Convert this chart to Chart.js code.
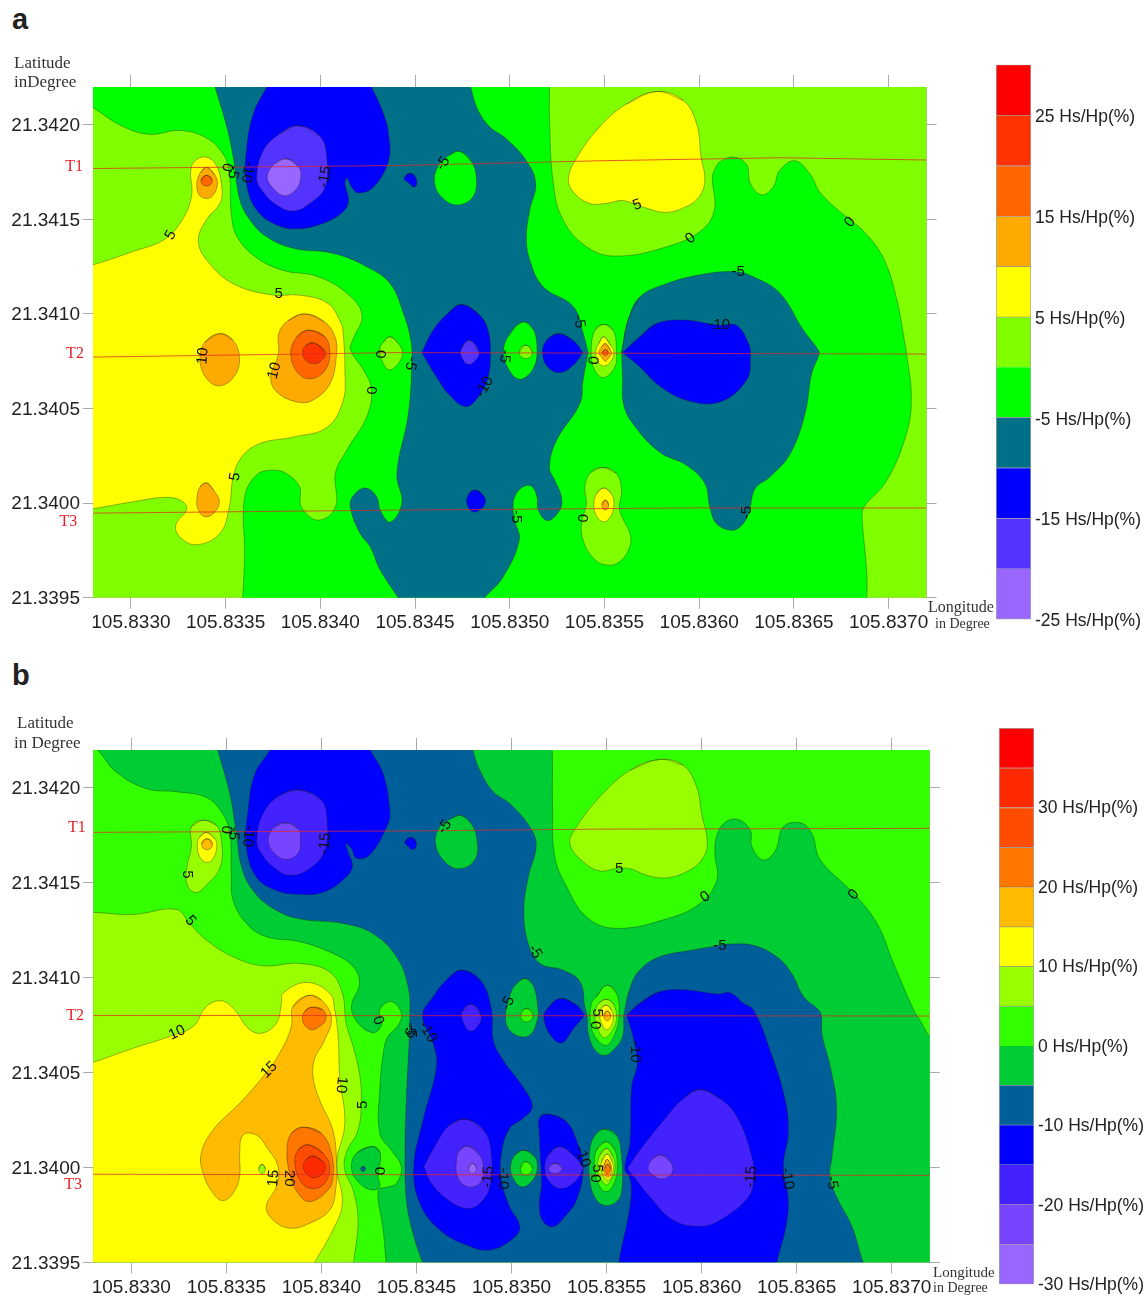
<!DOCTYPE html>
<html>
<head>
<meta charset="utf-8">
<script src="https://cdn.jsdelivr.net/npm/chart.js@4/dist/chart.umd.min.js"></script>
<style>
body { margin: 0; background: #fff; }
#page { position: relative; width: 1148px; height: 1297px; overflow: hidden; }
canvas { position: absolute; }
.note { position: absolute; font-family: "Liberation Serif", serif; color: #333; white-space: nowrap; line-height: 1; transform: translateY(-50%); }
.tag { position: absolute; font-family: "Liberation Sans", sans-serif; font-weight: bold; font-size: 29px; color: #222; line-height: 1; }
</style>
</head>
<body>
<div id="page">
  <div class="tag" style="left:12px;top:5px">a</div>
  <div class="tag" style="left:12px;top:661px">b</div>
  <canvas id="mapA" width="1148" height="640" style="left:0;top:0"></canvas>
  <canvas id="mapB" width="1148" height="642" style="left:0;top:655px"></canvas>
  <canvas id="barA" width="152" height="590" style="left:996px;top:50px"></canvas>
  <canvas id="barB" width="149" height="580" style="left:999px;top:715px"></canvas>
  <div class="note" style="left:14px;top:62px;font-size:17px">Latitude</div>
  <div class="note" style="left:14px;top:81px;font-size:17px">inDegree</div>
  <div class="note" style="left:928px;top:607px;font-size:16px">Longitude</div>
  <div class="note" style="left:935px;top:624px;font-size:14px">in Degree</div>
  <div class="note" style="left:17px;top:722px;font-size:17px">Latitude</div>
  <div class="note" style="left:14px;top:742px;font-size:17px">in Degree</div>
  <div class="note" style="left:933px;top:1272px;font-size:15px">Longitude</div>
  <div class="note" style="left:933px;top:1288px;font-size:14px">in Degree</div>
</div>
<script>
// contour outlines are [lon, lat], in 1e-5 degree past 105.83 / 21.34
const LON0 = 105.83;
const LAT0 = 21.34;
const lonTicks = [105.833, 105.8335, 105.834, 105.8345, 105.835, 105.8355, 105.836, 105.8365, 105.837];
const latTicks = [21.3395, 21.34, 21.3405, 21.341, 21.3415, 21.342];

const bandsA = [-25, -20, -15, -10, -5, 0, 5, 10, 15, 20, 25];
const coloursA = ['#9966ff', '#5533ff', '#0000ff', '#007088', '#00ff00', '#80ff00', '#ffff00', '#ffaa00', '#ff6600', '#ff3300', '#ff0000'];
const barTicksA = [-25, -15, -5, 5, 15, 25];
const bandsB = [-30, -25, -20, -15, -10, -5, 0, 5, 10, 15, 20, 25, 30, 35];
const coloursB = ['#9966ff', '#7744ff', '#4422ff', '#0000ff', '#005f99', '#00cc33', '#33ff00', '#99ff00', '#ffff00', '#ffbb00', '#ff7700', '#ff4c00', '#ff2a00', '#ff0000'];
const barTicksB = [-30, -20, -10, 0, 10, 20, 30];

const box = [[260, -70], [740, -70], [740, 240], [260, 240], [260, -70]];

// panel a
const aT1 = [[280, 176.9], [442, 178.5], [547.7, 181], [642.7, 182.6], [720, 181.4]];
const aT2 = [[280, 77.2], [442, 79.6], [720, 78.8]];
const aT3 = [[280, -5.3], [442, -3.7], [600.5, -2.5], [720, -2.6]];

const aGreen = [[275, 212], [280, 209], [296, 199], [310, 195], [326, 197], [340, 193], [349, 184], [352, 174], [353, 153], [356, 141], [366, 130], [380.5, 123], [398, 120], [414, 111], [422, 99.5], [417, 86], [416, 81], [423, 70], [427, 60], [424.5, 45.6], [414, 28], [408, 16], [408, -2], [399, -9], [390, -2], [389, 8.6], [382, 15.7], [375, 17.4], [366.5, 15], [360, 3], [360, -27], [359, -50], [358, -62], [358, -80], [688, -80], [688, -62], [688.5, -50], [688.5, -37], [686, -7], [687, -2], [699, 12], [709.5, 37], [712, 56], [709.5, 79], [708.6, 84.5], [704, 109], [697, 130], [686.6, 144], [678, 151], [664, 164], [658.5, 174], [650.5, 181], [642.6, 176], [639, 167], [633, 163], [627, 169], [625, 179], [618, 183], [611, 180.5], [609, 178], [607, 172.5], [608, 155], [601, 144], [583, 135.6], [556, 130.6], [540.5, 135.6], [528, 150], [523, 169], [521, 202.5], [521, 220], [521, 235], [270, 235], [270, 214], [275, 212]];
const aYellowTop = [[577.5, 217.6], [591.5, 213], [598.6, 200.7], [601, 183], [603, 170.8], [600, 162], [593, 156.7], [582.7, 153.7], [572, 156], [565, 158.5], [559, 160], [551, 158.5], [542, 158.5], [533.5, 164.6], [531, 171.7], [535, 182], [547.5, 199], [561.6, 211], [577.5, 217.6]];
const aYellowLeft = [[270, 124], [280, 126], [301, 133], [317, 139], [326, 148], [332, 162], [332, 178], [338, 183], [344.5, 179.6], [348, 167], [347, 158.5], [340, 150], [335.6, 139], [340, 128.5], [354, 116], [375, 110], [389, 110], [404, 105.6], [411, 95], [412, 91], [413, 70], [412, 54], [403.4, 40], [386, 35], [368, 31.5], [358.6, 24.5], [354, 14], [352, -2], [347, -16], [334.7, -22], [326, -18], [323.7, -11.6], [329.5, -3], [326, 1.6], [317, 3], [301, 0.7], [280, -3], [270, -4.5], [262, 60], [270, 124]];
const aOrangeT1 = [[340, 177.5], [344.4, 173.4], [345.7, 169], [343.6, 163], [340, 161], [336, 163], [334.8, 169], [336.5, 174.3], [340, 177.5]];
const aCoreT1 = [[340, 173.3], [343, 170.4], [340, 167.6], [337, 170.4], [340, 173.3]];
const aOrangeT2 = [[347, 89.6], [354, 86], [357.3, 77.3], [355, 67.6], [347, 62], [340, 65.8], [336.5, 75.5], [339, 85], [347, 89.6]];
const aOrangeBig = [[392, 100], [402, 96], [407.8, 88], [408.4, 77], [405, 63], [396, 54.4], [387.6, 53.5], [377, 58.8], [373.8, 66.7], [377.9, 79], [378, 89.6], [383, 96.5], [392, 100]];
const aDeepBig = [[393.7, 91.4], [402.5, 87.9], [405, 79], [402.5, 70.2], [395.5, 65.8], [388.4, 68.5], [384.4, 79], [387.6, 87.9], [393.7, 91.4]];
const aRedBig = [[396.4, 84.7], [402.5, 80], [400.8, 75.5], [396.4, 73.8], [392, 75.9], [390.7, 79.6], [392, 83], [396.4, 84.7]];
const aOrangeT3 = [[340, 10.7], [343.6, 6.9], [346.7, 0.7], [343.6, -5.5], [339, -7.2], [335.6, -3.7], [334.8, 1.6], [336.5, 8.6], [340, 10.7]];
const aLimeW = [[436.9, 87.9], [441.3, 84.3], [443.4, 79], [440.4, 72.9], [436, 70.6], [432.5, 75.5], [431.2, 80.8], [433.3, 85.2], [436.9, 87.9]];
const aTealMain = [[340, 235], [344.4, 220], [350.6, 199], [354, 183], [357.6, 160], [363, 149.6], [371.7, 140.8], [385.8, 134.7], [407, 132], [424.5, 125], [436.9, 116], [444, 100], [447.8, 86], [448.3, 75.5], [446.5, 47.4], [440.4, 15.7], [443, 0], [436.9, -10], [431.6, -3.7], [429.8, 3.3], [423.7, 8], [417.5, 4], [415.8, -2], [421, -16], [426.3, -23], [431.6, -35.4], [441, -50], [448, -62], [455, -80], [480, -80], [478, -62], [486.8, -50], [496.5, -39], [505, -19.5], [502.6, -9], [501.8, -3.7], [502.6, 3.3], [507, 8.6], [511.4, 9], [514.4, 3.3], [515, -3.7], [520, -9.3], [526.4, -3.7], [527.3, 3.3], [523.8, 12], [521, 19], [524.6, 33], [537, 52.6], [538.7, 65], [541.4, 79.6], [541.4, 79.6], [538.7, 90], [533.5, 104], [517.6, 114.4], [510.6, 128.5], [508.8, 140.8], [510.6, 155], [513.7, 169], [508.8, 181], [498, 192.8], [489.4, 199], [483.3, 207.7], [479.4, 220], [476, 235], [340, 235]];
const aTealRight = [[562.5, 96.8], [568.7, 109], [582.7, 116], [600, 120.6], [618, 122.4], [628.5, 119.7], [642.6, 111], [655, 91.5], [662.9, 81], [663.4, 79], [659.4, 68.5], [655.9, 47.4], [648, 26], [637.5, 14], [629.6, 7.7], [626, -5.5], [621.7, -12.5], [616.3, -14.3], [609, -10.7], [605.6, -2], [603, 10.4], [593.3, 20], [579, 27], [565, 42], [560, 52.6], [559.5, 66.7], [559, 79.6], [559, 79.6], [562.5, 96.8]];
const aBlueTop = [[396, 262], [380, 236], [371.7, 220], [364.7, 206], [361, 186.6], [361, 169], [366.4, 155], [377, 147], [387.6, 145], [401.7, 148], [412, 154], [414.9, 160], [413, 169], [414, 171.7], [416.6, 167], [420, 164], [428, 167], [436, 181], [436, 195.4], [433.3, 206], [427, 220], [419, 236], [404, 262], [396, 262]];
const aVioletTop = [[388.5, 199.5], [400, 193.7], [403.4, 183], [402.5, 167], [394.6, 158.5], [385.8, 154.4], [377, 157.6], [369, 165.5], [366.4, 172.5], [370, 186.6], [378.8, 195.4], [388.5, 199.5]];
const aLilacTop = [[382.3, 182], [388.5, 177.8], [389.7, 172.5], [387.6, 166.4], [381.4, 162.5], [375.2, 166.4], [372, 172.5], [376, 179.6], [382.3, 182]];
const aBlueDot = [[447.4, 174.3], [450.6, 171.7], [450, 167.3], [446.5, 169.4], [444.3, 171.7], [447.4, 174.3]];
const aGreenN = [[473.6, 186], [479.8, 180.5], [482.4, 171.7], [480.6, 162], [472.7, 157.6], [464.8, 161], [460.4, 169], [462, 177.8], [468.3, 184], [473.6, 186]];
const aBlueT2a = [[474.5, 105], [484, 99.5], [488.6, 91.4], [489.8, 79], [488.6, 66.7], [484, 57], [477, 51], [468.3, 57], [461.3, 66.7], [453.5, 79.6], [453.5, 79.6], [459.5, 91.4], [467.4, 100.4], [474.5, 105]];
const aVioletT2 = [[478.9, 86], [483.8, 79.6], [481.5, 75], [478, 73.4], [474.5, 77.3], [474.5, 81.7], [478.9, 86]];
const aGreenT2 = [[506.7, 95.8], [512.3, 92], [514.4, 80.8], [512.3, 71], [506, 65.5], [500.9, 68.5], [496.8, 79], [499, 87.9], [506.7, 95.8]];
const aLimeT2 = [[508.5, 83.5], [512, 79.6], [508.5, 76.4], [505, 79.6], [508.5, 83.5]];
const aBlueT2b = [[525.5, 89.6], [533.5, 86], [538.7, 79.6], [538.7, 79.6], [533.5, 72.9], [526.4, 69], [520, 72], [517.3, 79.6], [519.4, 86], [525.5, 89.6]];
const aBlueT2c = [[568.7, 88], [577.5, 95], [591.5, 96.8], [611, 94], [619.7, 94], [626, 84.5], [627.1, 77.3], [625, 65], [611, 53.5], [593.3, 54.4], [579, 62], [568.7, 72], [559.5, 79.6], [559.5, 79.6], [568.7, 88]];
const aPeakLimeT2 = [[549.6, 94.5], [554.6, 91.4], [556.3, 80.8], [555.5, 72], [549.6, 66.4], [544.9, 70.2], [543, 79.6], [544.9, 91.4], [549.6, 94.5]];
const aPeakYellowT2 = [[549.6, 87.9], [553.2, 83.5], [555, 79.6], [553.2, 74.6], [549.6, 72.5], [546.7, 74.6], [545.3, 79.6], [547, 84.4], [549.6, 87.9]];
const aPeakOrangeT2 = [[550.5, 84.3], [553.2, 80.8], [553.7, 79], [552, 76.4], [550.5, 75], [548.4, 77.3], [547, 79.6], [548.4, 82.6], [550.5, 84.3]];
const aPeakCoreT2 = [[550.5, 81.2], [552, 79.6], [550.5, 78], [549, 79.6], [550.5, 81.2]];
const aBlueT3 = [[481.5, 6.9], [486, 4.2], [487, -0.2], [484, -3.7], [480.6, -4.6], [477.6, -1], [478, 4.2], [481.5, 6.9]];
const aPeakLimeT3 = [[549.3, 18.8], [556.3, 15.7], [559, 6.9], [558, -3.7], [563.4, -16], [563.4, -23], [558, -31], [551, -32.7], [544, -29], [538.7, -19.5], [537.9, -10.7], [540.5, -0.2], [539.6, 8.6], [543, 16.5], [549.3, 18.8]];
const aPeakYellowT3 = [[549.6, 8], [553.7, 5], [555, -1], [553.2, -7.2], [549.6, -9.9], [546, -7.2], [544.4, -1], [545.8, 5], [549.6, 8]];
const aPeakOrangeT3 = [[550.5, 1.6], [552.2, -1], [550.5, -3.7], [548.6, -1], [550.5, 1.6]];

const layersA = [
  [box, 0], [aGreen, -5], [aYellowTop, 5], [aYellowLeft, 5], [aOrangeT1, 10], [aCoreT1, 15],
  [aOrangeT2, 10], [aOrangeBig, 10], [aDeepBig, 15], [aRedBig, 20], [aOrangeT3, 10], [aLimeW, 0],
  [aTealMain, -10], [aTealRight, -10], [aBlueTop, -15], [aVioletTop, -20], [aLilacTop, -25],
  [aBlueDot, -15], [aGreenN, -5], [aBlueT2a, -15], [aVioletT2, -20], [aGreenT2, -5], [aLimeT2, 0],
  [aBlueT2b, -15], [aBlueT2c, -15], [aPeakLimeT2, 0], [aPeakYellowT2, 5], [aPeakOrangeT2, 10], [aPeakCoreT2, 15],
  [aBlueT3, -15], [aPeakLimeT3, 0], [aPeakYellowT3, 5], [aPeakOrangeT3, 10]
];
const linesA = [aT1, aT2, aT3];
const lineNamesA = [['T1', 270, 178], ['T2', 270.5, 78.7], ['T3', 267, -10]];
const labelsA = [
  ['5', 321, 141.7, -60], ['0', 350.6, 177.5, 100], ['-5', 354, 175, 100], ['-10', 361.5, 175, 100], ['-15', 402.5, 172.5, -80],
  ['5', 378, 110.4, 0], ['10', 338, 77.8, -85], ['10', 375.8, 70, -75], ['0', 431.6, 78.7, 90], ['-5', 447.8, 73.8, 100],
  ['0', 427.7, 59.7, -90], ['5', 355, 14, -80], ['-5', 464.8, 179.6, -55], ['5', 567.3, 157.6, -20], ['0', 595.4, 140, -40],
  ['-5', 620.6, 122.4, 0], ['-10', 610.6, 94, 0], ['0', 679.6, 148.6, -50], ['-5', 536.6, 96, 80], ['-5', 497.4, 77.6, 95],
  ['-10', 486.8, 61.4, -60], ['0', 543.7, 75.5, 95], ['-5', 503.2, -7.2, 90], ['0', 538.4, -8, 90], ['-5', 625, -5, -90]
];

// panel b
const bT1 = [[279.6, 176.6], [451.7, 177.4], [546.6, 178.3], [720.2, 178.7]];
const bT2 = [[279.6, 80.1], [720.2, 79.8]];
const bT3 = [[279.6, -3.6], [720.2, -4.2]];

const bDark = [[278, 223.3], [282.5, 219.8], [292, 208.4], [308, 199.6], [323.7, 198], [339.5, 195], [348, 186.5], [351.8, 176], [352.6, 155], [353.5, 141], [360.5, 128.6], [371, 121.6], [388.6, 119], [406, 112.8], [416.7, 105.8], [420, 97], [415.8, 84.8], [419.3, 76], [427.2, 71], [431.6, 75], [430.7, 83], [436.8, 87.4], [442, 81.3], [440.4, 75], [435, 69], [432.8, 62], [430.7, 41], [430.7, 18], [436.8, 9], [442, 0.4], [439.5, -8.3], [434, -10.5], [429.8, -12], [432.5, -33], [434, -50], [435, -62], [435, -80], [735, -80], [735, 55], [720.2, 68.8], [715, 77.5], [711.6, 83], [701, 107.5], [692.3, 128.6], [680, 144.4], [662.5, 162], [658, 176], [652, 181.6], [643, 179.5], [638.8, 167], [632.6, 162], [626.5, 169], [625.6, 177.7], [619.5, 183.3], [612.5, 182], [608, 175], [607, 165.4], [608, 151.4], [599, 139], [581.6, 131], [555, 126], [539.5, 132], [529, 148], [522.8, 163.7], [521.6, 190], [521.4, 219.8], [520, 235], [277, 235], [278, 223.3]];
const bLimeTop = [[578, 215], [590.4, 212], [597.4, 200.5], [600, 186.5], [603, 170.7], [600, 162], [592, 155.8], [581.6, 152.6], [571, 154], [562.3, 157.5], [555.3, 157.5], [546.5, 156.3], [537.7, 161], [530.7, 170.7], [534.2, 179.5], [546.5, 195.3], [562.3, 209.3], [578, 215]];
const bLimeLeft = [[268, 134], [279.6, 134.4], [301, 133.3], [323.7, 136], [330.7, 128.6], [339.5, 119.8], [353.5, 111], [369.3, 106.3], [388.6, 107.5], [404.4, 103], [411, 91.8], [413, 76], [416.7, 63.7], [420, 49.6], [421, 35.6], [419.3, 19.8], [413, 7.5], [412.3, -1.3], [416.7, -12], [419.3, -27.7], [417, -50], [416, -62], [416, -80], [268, -80], [260, 40], [268, 134]];
const bYellow = [[268, 52], [279.6, 55.3], [301, 62.8], [320, 69], [332.5, 74.3], [339.5, 84.8], [347.4, 87.8], [354.4, 83], [361.4, 73.4], [368.4, 70.7], [376.3, 76], [379, 86.6], [379.8, 91.8], [392, 97.5], [404.4, 91.8], [407, 83], [408.8, 69], [409.6, 48], [412.3, 23], [408, 2], [411, -19], [406, -33], [396.5, -50], [390, -62], [380, -80], [268, -80], [260, 0], [268, 52]];
const bOrange = [[393, 90.6], [400, 88.3], [405.3, 78.6], [400.9, 65.5], [396.5, 57.6], [395.6, 47.9], [399, 35.6], [406, 19.8], [408, 2.2], [407.5, -11.9], [404.4, -22.4], [393.9, -29.4], [383.3, -32], [374.6, -27.7], [371, -20.6], [376.3, -10], [377.2, 0.4], [371, 11], [365.8, 17.1], [358.8, 17.1], [357, 7.5], [357, -4.8], [353.5, -13.6], [348.2, -17.5], [343, -13.6], [337.7, -3], [336.8, 7.5], [343, 19.8], [357, 33.8], [369.3, 47.9], [378, 60.2], [384.2, 74.3], [385, 84.8], [393, 90.6]];
const bDeepTop = [[394.7, 84.4], [400.9, 83], [402.3, 77.8], [399, 74.3], [394.7, 72.5], [391.2, 75], [390, 78.6], [391.2, 82.2], [394.7, 84.4]];
const bDeepBig = [[390.4, 21.2], [400, 18], [405.3, 7.5], [406.1, -4.8], [403.5, -11.9], [393.9, -18], [387.7, -13.6], [383.3, -3], [381.9, 9.2], [384.2, 18], [390.4, 21.2]];
const bRedBig = [[393, 11.9], [400.9, 7.5], [404.4, -0.4], [400.9, -9.2], [393.9, -11], [388.6, -6.6], [386, 2.2], [387.7, 9.2], [393, 11.9]];
const bCoreBig = [[395.6, 6], [400.9, 3], [402, -0.4], [400, -4], [395.6, -5.4], [391.8, -3], [390.4, 0.4], [392, 4.3], [395.6, 6]];
const bLimeDot = [[368.8, 1.6], [370.5, -0.8], [368.8, -3.3], [367, -0.8], [368.8, 1.6]];
const bLimeT1 = [[337.7, 183], [344.7, 180.4], [347.4, 172.5], [346.8, 158.4], [339.5, 148.8], [334.2, 144.9], [329.8, 147.9], [329, 156.7], [331.6, 169], [331.6, 179.5], [337.7, 183]];
const bYellowT1 = [[339.5, 176.5], [343.9, 173.3], [345, 169], [343, 162.8], [339.5, 160.7], [336, 163.7], [334.7, 169.8], [336, 174.2], [339.5, 176.5]];
const bOrangeT1 = [[339.8, 173.2], [342.8, 170.3], [339.8, 167.4], [336.9, 170.3], [339.8, 173.2]];
const bIslandW = [[427.2, 11], [431, 7.5], [429.8, -4.8], [430.7, -10], [426.3, -11.9], [419.3, -7.5], [415.8, -0.4], [418.4, 7.5], [427.2, 11]];
const bTealDot = [[421.9, 0.6], [423.1, -0.8], [421.9, -2.2], [420.7, -0.8], [421.9, 0.6]];
const bTeal = [[342, 235], [345.6, 219.8], [351.8, 197], [355.3, 176], [358, 158.4], [364, 146], [374.6, 136.5], [388.6, 131], [411.4, 128.6], [427, 123.3], [439.5, 111], [445.6, 95.3], [446.5, 79.3], [444.7, 35.4], [444, 10.9], [444.7, -17], [448.2, -34.7], [453.2, -50], [458, -62], [465, -80], [690, -80], [690, -62], [685, -50], [679, -31], [671, -15.4], [667.4, -5], [668.6, 5.6], [671, 32], [667.7, 53], [663.3, 70.5], [663, 80], [661.6, 83], [653.7, 90], [647.5, 102], [639.6, 111], [627.4, 117], [615, 117.7], [609.6, 117], [595.6, 114.6], [578, 111], [567.5, 104], [562.3, 94.4], [559, 80.2], [559, 80.2], [558.4, 68.8], [553.5, 61.8], [549, 59], [543.9, 61.8], [540.4, 70.5], [539.8, 79.3], [538.6, 84.7], [536, 97.9], [527, 104], [515, 107.5], [508.8, 118], [506.5, 135.6], [508.8, 153], [513, 169.8], [509.6, 179.5], [499, 191.8], [490.4, 198], [483.3, 209.3], [479.8, 219.8], [477, 235], [342, 235]];
const bBlueTop = [[397, 262], [381, 236], [372.8, 219.8], [365, 207.5], [361.4, 188], [360.5, 169], [365.8, 153], [376.3, 146], [387.7, 144], [400.9, 145], [413, 153], [416.3, 159], [414, 166.3], [413, 170.7], [415.8, 168], [418.4, 163], [425.4, 164.6], [435, 181], [436, 188], [432.5, 207.5], [425.8, 219.8], [418, 236], [403, 262], [397, 262]];
const bVioletTop = [[388.6, 198.8], [400, 193.5], [403, 183], [401.8, 167.2], [393.9, 157.5], [383.3, 154], [374.6, 158.4], [368.4, 165.4], [366, 172.5], [369.3, 186.5], [378, 196], [388.6, 198.8]];
const bLilacTop = [[381.6, 181.6], [387.7, 178.6], [389, 172.5], [387.7, 165.4], [381.6, 162.3], [375.4, 165.4], [372, 172.5], [375.4, 179.5], [381.6, 181.6]];
const bBlueDot = [[447.4, 173.9], [450, 170.7], [448.2, 167.5], [445.6, 169.3], [443.9, 171.6], [447.4, 173.9]];
const bGreenN = [[473.3, 185.6], [479, 181], [482, 171.6], [480.7, 162], [472.8, 157.4], [465, 161], [460, 170.7], [462.3, 179.5], [468.4, 183.9], [473.3, 185.6]];
const bBlueWest = [[473.7, 104], [484.2, 97.9], [489.5, 83], [490.4, 67], [495.6, 56.5], [506, 42.5], [510.9, 32], [506, 25.8], [499, 20.5], [494.7, 7.4], [494.7, -6.7], [499, -20.7], [504.4, -31], [500.9, -37.4], [488.6, -43.5], [476.3, -40.9], [462.3, -33], [451.8, -19], [448.6, 0.4], [453.5, 25], [460.5, 53], [458.8, 65.4], [453.2, 80], [458.8, 90], [465.8, 98.8], [473.7, 104]];
const bBlueMidTop = [[525.4, 89], [534.2, 85.6], [538.6, 80.2], [538.6, 80.2], [532.5, 73], [526.3, 65.6], [520, 70.5], [517, 79.3], [518.4, 83], [525.4, 89]];
const bBlueMid = [[520.2, 28], [529, 24], [534.2, 14.4], [537.7, 0.4], [534.2, -17.2], [528, -26], [522, -31.2], [516.7, -28.6], [514.6, -20.7], [515.8, -8.4], [514.6, 17.9], [515, 26.7], [520.2, 28]];
const bBlueRight = [[567.5, 86.5], [578, 92.6], [592, 93.5], [608, 91.4], [615, 92], [622, 86.5], [627.4, 82.8], [636, 61.8], [644, 35.4], [645.6, 17.9], [643, 0.4], [645.6, -17.2], [644, -33], [639.6, -50], [638, -62], [636, -80], [556, -80], [556, -62], [556.5, -50], [562.3, -20.7], [562.6, -6.7], [559.6, -0.5], [562.3, 12.6], [563.2, 42.5], [566.1, 54.7], [564, 68.8], [560.5, 80.2], [560.5, 80.2], [567.5, 86.5]];
const bVioletWest = [[476.3, 25.3], [486, 18.8], [489.5, 5.6], [488.6, -10.2], [483.3, -19], [476.3, -21.6], [466.7, -17.2], [457.9, -8.4], [453.9, 0.4], [453.9, 0.4], [460.5, 12.6], [467.5, 22.3], [476.3, 25.3]];
const bLilacWest = [[477.2, 11.2], [483.3, 6.5], [485.4, -1.4], [483.3, -8.4], [477.2, -10.2], [471.9, -5.8], [471, 3.9], [472.8, 9.1], [477.2, 11.2]];
const bCoreWest = [[479.5, 2.1], [481.6, -0.5], [479.5, -3.2], [477.4, -0.5], [479.5, 2.1]];
const bVioletT2 = [[479, 86], [483.9, 80.2], [482, 74], [478, 72], [474.6, 76.7], [474, 82], [479, 86]];
const bGreenT2 = [[507, 99.6], [511.4, 96], [514, 83], [513.5, 77.5], [510.5, 70.5], [505.3, 68.8], [499, 72.3], [496.8, 79.3], [499, 90], [501.8, 96], [507, 99.6]];
const bBrightT2 = [[507.9, 83.7], [511.4, 80.2], [507.9, 76.7], [504.7, 80.2], [507.9, 83.7]];
const bPeak0T2 = [[550, 96], [555.3, 91.8], [556.5, 79.3], [554.4, 70.5], [550, 64.4], [544.7, 67.9], [541.6, 75.8], [542, 86.3], [544.7, 90], [550, 96]];
const bPeak5T2 = [[550, 88.6], [553.5, 86.3], [555.3, 79.3], [553.5, 73], [549, 68.3], [545.6, 72.3], [543.9, 79.3], [545.6, 86.3], [550, 88.6]];
const bPeak10T2 = [[550.4, 85.4], [552.6, 82.8], [553.5, 79.3], [552.6, 75], [550, 72.6], [547.4, 75.8], [546.5, 80.2], [547.7, 84.6], [550.4, 85.4]];
const bPeak15T2 = [[550.4, 82.5], [552.2, 79.8], [550.4, 77.2], [548.6, 79.8], [550.4, 82.5]];
const bPeakDarkT3 = [[548.6, 20.2], [555.3, 17], [557.9, 5.6], [558.2, -10.2], [556.1, -17.2], [550, -20.2], [544.7, -17.2], [541.2, -6.7], [541.2, 9.1], [543.9, 17], [548.6, 20.2]];
const bPeak0T3 = [[550, 13.5], [554.4, 9.1], [555.6, -1.4], [553.5, -9.3], [550, -12.8], [546.5, -10.2], [543.9, -1.4], [544.7, 9.1], [550, 13.5]];
const bPeak5T3 = [[550, 10], [553.5, 5.6], [554.4, -1.4], [551.8, -7.5], [550, -9.3], [547.4, -6.7], [545.1, -1.4], [546.5, 6.5], [550, 10]];
const bPeak10T3 = [[550.4, 7], [553, 3], [553.5, -2.3], [550.9, -6.7], [547.4, -2.3], [547.4, 3], [550.4, 7]];
const bPeak15T3 = [[550.4, 4.2], [552.5, 0.4], [552.2, -4], [550.4, -5.3], [548.6, -2.3], [548.6, 1.2], [550.4, 4.2]];
const bPeak20T3 = [[550.5, 1.6], [552.2, -0.5], [550.5, -3.2], [549, -0.5], [550.5, 1.6]];
const bVioletMid = [[525.4, 10.9], [532.5, 6.5], [538, -0.5], [538, -0.5], [532.5, -8.4], [525.4, -11], [519.3, -6.7], [517.5, -0.5], [519.3, 6.5], [525.4, 10.9]];
const bLilacMid = [[522.8, 2.1], [526.7, -0.5], [522.8, -3.2], [519.6, -0.5], [522.8, 2.1]];
const bGreenT3 = [[506.5, 9.1], [512.3, 5.6], [513.5, -1.4], [510.5, -7.5], [505.3, -10.2], [500.9, -5.8], [499.5, 0.4], [501.8, 6.5], [506.5, 9.1]];
const bBrightT3 = [[507.5, 3], [511, -0.5], [507.5, -4], [504.7, -0.5], [507.5, 3]];
const bVioletRight = [[599, 41], [609.6, 36.3], [618.6, 26.7], [626.5, 5.6], [627.4, -5], [624.7, -15.4], [609.8, -27.7], [599, -31], [585, -27.7], [572.8, -15.4], [561, -0.5], [561, -0.5], [567.5, 9], [581.6, 26.7], [590.4, 36.3], [599, 41]];
const bLilacRight = [[579, 6.5], [584.2, 2.1], [584.2, -3.2], [579, -6.1], [574.5, -4], [571.8, -0.5], [574.5, 4.7], [579, 6.5]];

const layersB = [
  [box, 0], [bDark, -5], [bLimeTop, 5], [bLimeLeft, 5], [bYellow, 10], [bOrange, 15], [bDeepTop, 20],
  [bDeepBig, 20], [bRedBig, 25], [bCoreBig, 30], [bLimeDot, 5], [bLimeT1, 5], [bYellowT1, 10], [bOrangeT1, 15],
  [bIslandW, -5], [bTealDot, -10], [bTeal, -10], [bBlueTop, -15], [bVioletTop, -20], [bLilacTop, -25], [bBlueDot, -15],
  [bGreenN, -5], [bBlueWest, -15], [bBlueMidTop, -15], [bBlueMid, -15], [bBlueRight, -15], [bVioletWest, -20],
  [bLilacWest, -25], [bCoreWest, -30], [bVioletT2, -20], [bGreenT2, -5], [bBrightT2, 0],
  [bPeak0T2, 0], [bPeak5T2, 5], [bPeak10T2, 10], [bPeak15T2, 15],
  [bPeakDarkT3, -5], [bPeak0T3, 0], [bPeak5T3, 5], [bPeak10T3, 10], [bPeak15T3, 15], [bPeak20T3, 20],
  [bVioletMid, -20], [bLilacMid, -25], [bGreenT3, -5], [bBrightT3, 0], [bVioletRight, -20], [bLilacRight, -25]
];
const linesB = [bT1, bT2, bT3];
const lineNamesB = [['T1', 271.4, 178.8], ['T2', 270.4, 79.9], ['T3', 269.4, -9.3]];
const labelsB = [
  ['0', 350, 178, 95], ['-5', 353.9, 176, 95], ['-10', 361.4, 174.6, 95], ['-15', 401.8, 170.7, -85], ['5', 329.5, 154.4, 90], ['5', 331, 130, 50],
  ['10', 324, 71, -25], ['15', 372.5, 51.4, -45], ['10', 410.5, 43.5, 95], ['5', 422, 33, -90], ['0', 429.8, 77.4, 70], ['-5', 447.4, 71.6, 90],
  ['15', 374.9, -5.7, -85], ['20', 383, -5.7, 90], ['0', 430.4, -1.8, 90], ['-5', 464.9, 179.5, -55], ['5', 556.7, 157.5, 0], ['0', 602, 142.6, -35],
  ['-5', 609.6, 117, 0], ['-5', 512.3, 113.7, 60], ['-5', 498.2, 86.5, -65], ['-5', 446.5, 73, 95], ['-10', 456, 71.4, 60], ['-10', 565, 61, 90],
  ['5', 545.3, 81.5, 90], ['0', 544, 75, 90], ['-15', 487.7, -5, -85], ['-10', 495.6, -5.9, 90], ['-10', 537.4, 5.6, 70], ['5', 545.3, -0.5, 90],
  ['0', 544, -5.8, 90], ['-15', 626, -5, -85], ['-10', 645, -6, 80], ['-5', 668.6, -8, 80], ['0', 680, 143.8, -50]
];

const toPoints = pts => pts.map(p => ({ x: LON0 + p[0] * 1e-5, y: LAT0 + p[1] * 1e-5 }));

// the spline has no closed mode outside radar, so run one point past the seam on both ends
function closeLoop(pts) {
  return [pts[pts.length - 2], ...pts, pts[1]];
}

// 4 point blobs need more tension to come out round
function tensionFor(pts) {
  if (pts === box) return 0;
  if (pts.length <= 6) return 0.55;
  if (pts.length <= 8) return 0.45;
  return 0.4;
}

// draws the contour values and the T1/T2/T3 names at their map position
const mapText = {
  id: 'mapText',
  afterDraw(chart, args, opts) {
    const c = chart.ctx;
    const xs = chart.scales.x;
    const ys = chart.scales.y;
    c.save();
    c.textAlign = 'center';
    c.textBaseline = 'middle';
    c.font = '15px "Liberation Sans"';
    c.fillStyle = '#111';
    opts.labels.forEach(l => {
      c.save();
      c.translate(xs.getPixelForValue(LON0 + l[1] * 1e-5), ys.getPixelForValue(LAT0 + l[2] * 1e-5));
      c.rotate(l[3] * Math.PI / 180);
      c.fillText(l[0], 0, 0);
      c.restore();
    });
    c.font = '16px "Liberation Serif"';
    c.fillStyle = '#e8202a';
    opts.names.forEach(n => {
      c.fillText(n[0], xs.getPixelForValue(LON0 + n[1] * 1e-5), ys.getPixelForValue(LAT0 + n[2] * 1e-5));
    });
    c.restore();
  }
};

function fixedSize(prop, size) {
  return s => {
    s[prop] = size;
    s.paddingLeft = s.paddingRight = s.paddingTop = s.paddingBottom = 0;
  };
}

function makeMap(id, layers, bands, colours, lines, names, labels, box2) {
  const sets = layers.map(l => ({
    data: toPoints(l[0] === box ? box : closeLoop(l[0])),
    showLine: true,
    fill: 'shape',
    tension: tensionFor(l[0]),
    backgroundColor: colours[bands.indexOf(l[1])],
    borderColor: l[0] === box ? 'rgba(0,0,0,0)' : 'rgba(30,30,30,0.5)',
    borderWidth: 0.7,
    pointRadius: 0,
    clip: 0
  }));
  lines.forEach(t => sets.push({
    data: toPoints(t),
    showLine: true,
    fill: false,
    tension: 0,
    borderColor: 'rgba(225,40,40,0.75)',
    borderWidth: 1,
    pointRadius: 0
  }));
  sets.forEach((s, i) => { s.order = sets.length - i; });

  const gridLine = { drawOnChartArea: false, color: '#aaa', tickColor: '#aaa' };
  const tickFont = { family: 'Liberation Sans', size: 19 };
  const lonList = s => { s.ticks = lonTicks.map(v => ({ value: v })); };
  const latList = s => { s.ticks = latTicks.map(v => ({ value: v })); };
  return new Chart(document.getElementById(id), {
    type: 'scatter',
    data: { datasets: sets },
    plugins: [mapText],
    options: {
      responsive: false,
      animation: false,
      events: [],
      elements: { line: { capBezierPoints: false } },
      plugins: { legend: { display: false }, tooltip: { enabled: false }, mapText: { labels, names } },
      scales: {
        x: {
          type: 'linear', position: 'bottom', min: 105.8328, max: 105.8372,
          afterBuildTicks: lonList, afterFit: fixedSize('height', box2.bottom),
          grid: { ...gridLine, tickLength: 11 }, border: { color: '#aaa' },
          ticks: { font: tickFont, color: '#222', maxRotation: 0, autoSkip: false, padding: 3, callback: v => v.toFixed(4) }
        },
        x2: {
          type: 'linear', axis: 'x', position: 'top', min: 105.8328, max: 105.8372,
          afterBuildTicks: lonList, afterFit: fixedSize('height', box2.top),
          grid: { ...gridLine, tickLength: 12 }, border: { color: '#aaa' },
          ticks: { display: false }
        },
        y: {
          type: 'linear', position: 'left', min: 21.3395, max: 21.3422,
          afterBuildTicks: latList, afterFit: fixedSize('width', box2.left),
          grid: { ...gridLine, tickLength: 10 }, border: { color: '#aaa' },
          ticks: { font: tickFont, color: '#222', autoSkip: false, padding: 3, labelOffset: 1, callback: v => v.toFixed(4) }
        },
        y2: {
          type: 'linear', axis: 'y', position: 'right', min: 21.3395, max: 21.3422,
          afterBuildTicks: latList, afterFit: fixedSize('width', box2.right),
          grid: { ...gridLine, tickLength: 10 }, border: { color: '#aaa' },
          ticks: { display: false }
        }
      }
    }
  });
}

function makeBar(id, bands, colours, barTicks, pad) {
  return new Chart(document.getElementById(id), {
    type: 'bar',
    data: {
      labels: [''],
      datasets: bands.map((b, i) => ({
        data: [[b, b + 5]],
        backgroundColor: colours[i],
        borderColor: 'rgba(60,60,60,0.45)',
        borderWidth: 1,
        barPercentage: 1,
        categoryPercentage: 1,
        grouped: false
      }))
    },
    options: {
      responsive: false,
      animation: false,
      events: [],
      layout: { padding: { top: pad.top, bottom: pad.bottom } },
      plugins: { legend: { display: false }, tooltip: { enabled: false } },
      scales: {
        x: { display: false },
        y: {
          position: 'right',
          min: bands[0],
          max: bands[bands.length - 1] + 5,
          afterBuildTicks: s => { s.ticks = barTicks.map(v => ({ value: v })); },
          afterFit: fixedSize('width', pad.axis),
          grid: { display: false, drawTicks: false },
          border: { display: false },
          ticks: { font: { family: 'Liberation Sans', size: 17.5 }, color: '#222', padding: 4, labelOffset: pad.nudge, callback: v => v + ' Hs/Hp(%)' }
        }
      }
    }
  });
}

makeMap('mapA', layersA, bandsA, coloursA, linesA, lineNamesA, labelsA, { left: 93, right: 221.5, top: 87, bottom: 42.3 });
makeMap('mapB', layersB, bandsB, coloursB, linesB, lineNamesB, labelsB, { left: 93.3, right: 218.3, top: 95, bottom: 34.7 });
makeBar('barA', bandsA, coloursA, barTicksA, { top: 14.7, bottom: 20.5, axis: 117, nudge: 2 });
makeBar('barB', bandsB, coloursB, barTicksB, { top: 13, bottom: 10.7, axis: 114, nudge: 1 });
</script>
</body>
</html>
